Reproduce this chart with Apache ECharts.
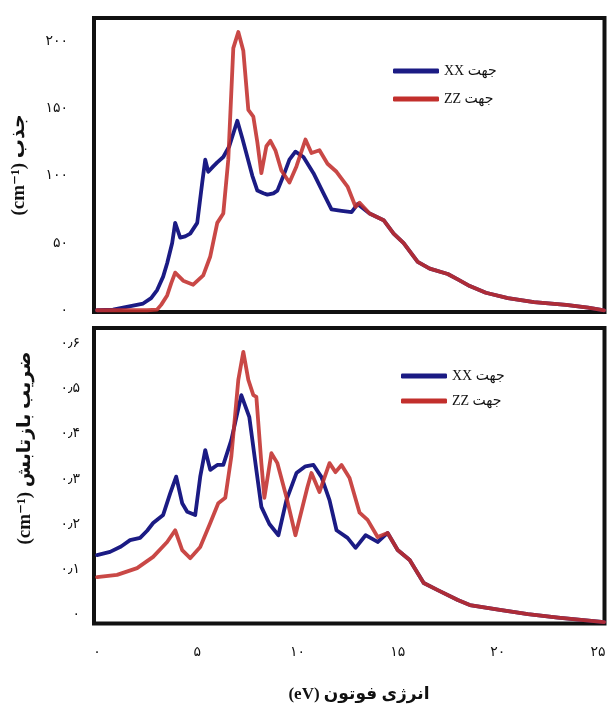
<!DOCTYPE html>
<html>
<head>
<meta charset="utf-8">
<script src="https://cdn.jsdelivr.net/npm/echarts@6/dist/echarts.min.js"></script>
<style>
html,body{margin:0;padding:0;background:#fff;}
#chart{width:612px;height:704px;}
</style>
</head>
<body>
<div id="chart"></div>
<script>
// ---- tick labels ----
const energyTicks = [0, 5, 10, 15, 20, 25];
const absTicks = [0, 50, 100, 150, 200];
const reflTicks = [0, 0.1, 0.2, 0.3, 0.4, 0.5, 0.6];

// ---- series names (legend) ----
const nameXX = 'XX جهت';
const nameZZ = 'ZZ جهت';

// ---- top panel: absorption (cm^-1) ----
const absXXEnergy = [0, 0.8, 1.3, 1.8, 2.3, 2.7, 3.0, 3.3, 3.5, 3.75, 3.9, 4.15, 4.4, 4.65, 5.0, 5.25, 5.4, 5.55, 5.8, 6.0, 6.3, 6.6, 7.0, 7.25, 7.5, 7.75, 8.0, 8.3, 8.5, 8.8, 9.0, 9.3, 9.6, 9.9, 10.3, 10.8, 11.3, 11.7, 12.2, 12.7, 13.0, 13.6, 14.3, 14.8, 15.3, 16.0, 16.6, 17.5, 18.0, 18.6, 19.4, 20.5, 21.8, 23.4, 24.5, 25.3];
const absXXValue  = [0, 0.5, 2, 3.5, 5, 9, 15, 25, 35, 50, 65, 54, 55, 57, 65, 95, 112, 103, 107, 110, 114, 122, 141, 128, 114, 100, 89, 87, 86, 87, 89, 100, 112, 118, 114, 102, 87, 75, 74, 73, 79, 72, 67, 57, 50, 36, 31, 27, 23, 18, 13, 9, 6, 4, 2, 0];

const absZZEnergy = [0, 2.5, 3.0, 3.2, 3.5, 3.7, 3.9, 4.3, 4.8, 5.3, 5.65, 6.0, 6.3, 6.55, 6.8, 7.05, 7.3, 7.55, 7.8, 8.0, 8.2, 8.45, 8.65, 8.9, 9.2, 9.6, 9.95, 10.4, 10.7, 11.1, 11.5, 11.95, 12.5, 12.9, 13.1, 13.6, 14.3, 14.8, 15.3, 16.0, 16.6, 17.5, 18.0, 18.6, 19.4, 20.5, 21.8, 23.4, 24.5, 25.3];
const absZZValue  = [0, 0, 0.5, 4, 11, 20, 28, 22, 19, 26, 40, 65, 72, 112, 195, 207, 193, 149, 144, 125, 102, 122, 126, 119, 104, 95, 107, 127, 117, 119, 109, 103, 92, 77, 80, 72, 67, 57, 50, 36, 31, 27, 23, 18, 13, 9, 6, 4, 2, 0];

// ---- bottom panel: reflectivity ----
const reflXXEnergy = [0, 0.65, 1.2, 1.65, 2.15, 2.5, 2.8, 3.3, 3.65, 3.95, 4.25, 4.5, 4.9, 5.15, 5.4, 5.65, 6.0, 6.3, 6.7, 7.2, 7.6, 7.95, 8.2, 8.6, 9.05, 9.45, 9.95, 10.4, 10.8, 11.2, 11.6, 11.95, 12.5, 12.9, 13.4, 14.0, 14.5, 15.0, 15.6, 16.3, 17.0, 18.0, 18.6, 20.1, 21.5, 23.0, 25.3];
const reflXXValue  = [0.131, 0.138, 0.150, 0.164, 0.169, 0.185, 0.202, 0.220, 0.268, 0.305, 0.246, 0.227, 0.220, 0.305, 0.364, 0.320, 0.331, 0.331, 0.386, 0.486, 0.437, 0.320, 0.238, 0.200, 0.175, 0.253, 0.313, 0.328, 0.331, 0.304, 0.253, 0.186, 0.169, 0.147, 0.175, 0.160, 0.180, 0.142, 0.120, 0.069, 0.053, 0.031, 0.020, 0.009, 0.000, -0.008, -0.018];

const reflZZEnergy = [0, 1.0, 2.0, 2.8, 3.5, 3.9, 4.25, 4.65, 5.15, 5.65, 6.05, 6.4, 6.7, 7.05, 7.3, 7.55, 7.8, 7.95, 8.2, 8.35, 8.7, 9.0, 9.45, 9.9, 10.5, 10.7, 11.1, 11.6, 11.9, 12.2, 12.6, 13.1, 13.5, 14.0, 14.5, 15.0, 15.6, 16.3, 17.0, 18.0, 18.6, 20.1, 21.5, 23.0, 25.3];
const reflZZValue  = [0.082, 0.087, 0.102, 0.127, 0.160, 0.186, 0.142, 0.124, 0.149, 0.202, 0.246, 0.258, 0.349, 0.520, 0.582, 0.520, 0.486, 0.482, 0.335, 0.258, 0.357, 0.335, 0.260, 0.175, 0.282, 0.313, 0.271, 0.335, 0.315, 0.331, 0.302, 0.225, 0.209, 0.171, 0.180, 0.142, 0.120, 0.069, 0.053, 0.031, 0.020, 0.009, 0.000, -0.008, -0.018];

// ---- helpers ----
const pairs = (xs, ys) => xs.map((x, i) => [x, ys[i]]);
const persianDigits = '۰۱۲۳۴۵۶۷۸۹';
const toPersian = v => String(v).replace(/\d/g, d => persianDigits[+d]).replace('.', '٫');

const BLUE = '#1b1b84';
const RED = '#c22f2c';
const FONT = "'Liberation Serif', 'DejaVu Serif', 'DejaVu Sans', serif";
const LABEL_FONT = "'DejaVu Sans', 'Noto Sans', sans-serif";

const chart = echarts.init(document.getElementById('chart'), null, {renderer: 'canvas'});

const gridBase = {left: 94, right: 7.5, show: true, borderColor: '#111', borderWidth: 4, backgroundColor: 'transparent'};
const hiddenAxisParts = {axisLine: {show: false}, axisTick: {show: false}, splitLine: {show: false}};
const labelStyle = {color: '#111', fontSize: 14, fontFamily: LABEL_FONT, formatter: v => toPersian(v)};

const lineSeries = (name, color, xi, yi, xs, ys, opacity) => ({
  name, type: 'line', xAxisIndex: xi, yAxisIndex: yi,
  data: pairs(xs, ys), showSymbol: false, symbol: 'none', smooth: false,
  color: color,
  lineStyle: {color: color, width: 3.8, opacity: opacity, join: 'round', cap: 'round'},
  emphasis: {disabled: true}
});

const legendBase = {
  orient: 'vertical', icon: 'roundRect', itemWidth: 46, itemHeight: 5,
  itemGap: 14, selectedMode: false,
  textStyle: {fontSize: 14, fontFamily: FONT, color: '#111'},
  data: [nameXX, nameZZ]
};

chart.setOption({
  animation: false,
  backgroundColor: '#fff',
  grid: [
    Object.assign({top: 18, height: 294}, gridBase),
    Object.assign({top: 328, height: 295.5}, gridBase)
  ],
  xAxis: [
    Object.assign({type: 'value', gridIndex: 0, min: -0.15, max: 25.32, axisLabel: {show: false}}, hiddenAxisParts),
    Object.assign({type: 'value', gridIndex: 1, min: -0.15, max: 25.32,
      axisLabel: Object.assign({customValues: energyTicks, margin: 22}, labelStyle)}, hiddenAxisParts)
  ],
  yAxis: [
    Object.assign({type: 'value', gridIndex: 0, min: -1.3, max: 217.4,
      axisLabel: Object.assign({customValues: absTicks, margin: 26}, labelStyle)}, hiddenAxisParts),
    Object.assign({type: 'value', gridIndex: 1, min: -0.021, max: 0.635,
      axisLabel: Object.assign({customValues: reflTicks, margin: 14}, labelStyle)}, hiddenAxisParts)
  ],
  legend: [
    Object.assign({}, legendBase, {left: 388, top: 59}),
    Object.assign({}, legendBase, {left: 396, top: 364, itemGap: 11})
  ],
  series: [
    lineSeries(nameXX, BLUE, 0, 0, absXXEnergy, absXXValue, 1),
    lineSeries(nameZZ, RED, 0, 0, absZZEnergy, absZZValue, 0.88),
    lineSeries(nameXX, BLUE, 1, 1, reflXXEnergy, reflXXValue, 1),
    lineSeries(nameZZ, RED, 1, 1, reflZZEnergy, reflZZValue, 0.88)
  ],
  graphic: [
    {type: 'text', x: 19, y: 165, rotation: Math.PI / 2,
      style: {text: '(cm⁻¹) جذب', font: "bold 19px " + FONT, fill: '#111', align: 'center', verticalAlign: 'middle'}},
    {type: 'text', x: 25, y: 448, rotation: Math.PI / 2,
      style: {text: '(cm⁻¹) ضریب بازتابش', font: "bold 19px " + FONT, fill: '#111', align: 'center', verticalAlign: 'middle'}},
    {type: 'text', x: 359, y: 695,
      style: {text: '(eV) انرژی فوتون', font: "bold 17px " + FONT, fill: '#111', align: 'center', verticalAlign: 'middle'}}
  ]
});
</script>
</body>
</html>
